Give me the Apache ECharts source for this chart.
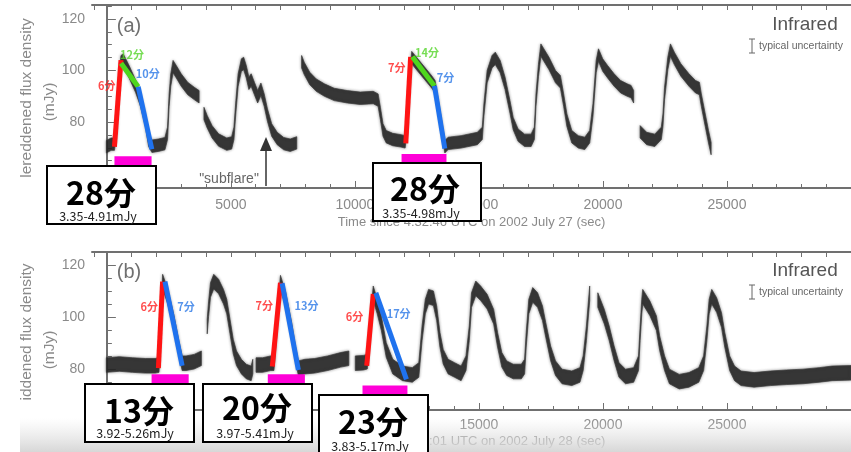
<!DOCTYPE html>
<html>
<head>
<meta charset="utf-8">
<script src="https://cdn.jsdelivr.net/npm/echarts@6/dist/echarts.min.js"></script>
<style>
html, body { margin: 0; padding: 0; background: #fff; }
#chart { width: 851px; height: 452px; }
</style>
</head>
<body>
<div id="chart"></div>
<script>
// Infrared light curve, 2002 July 27: [time (s), dereddened flux (mJy)]; null = gap in the data
const curveA = [
  [-20, 70.4], [170, 71.4], [305, 71.4], [400, 78.2], [476, 93.7], [568, 103.4], [660, 104.0], [896, 99.5],
  [1158, 93.9], [1355, 88.5], [1552, 80.7], [1684, 72.9], [1815, 70.6], [2077, 71.0], [2340, 71.6], [2445, 75.6],
  [2510, 88.5], [2576, 96.3], [2668, 101.5], [2799, 99.5], [2996, 96.3], [3258, 93.0], [3520, 91.1], [3717, 89.8],
  null,
  [3914, 83.3], [4045, 80.1], [4242, 76.2], [4505, 73.0], [4833, 71.4], [5030, 71.9], [5122, 75.6], [5200, 85.9],
  [5292, 96.3], [5423, 102.1], [5515, 102.7], [5620, 99.5], [5725, 95.0], [5817, 96.3], [5948, 93.0], [6079, 89.8],
  [6210, 92.7], [6342, 88.5], [6473, 82.7], [6644, 76.9], [6867, 73.6], [7130, 71.6], [7392, 71.0], [7654, 71.9],
  null,
  [7851, 103.4], [7956, 100.8], [8179, 96.9], [8442, 94.3], [8770, 92.4], [9164, 90.7], [9688, 89.8], [10213, 89.2],
  [10738, 89.5], [10935, 88.5], [11027, 83.3], [11132, 76.9], [11263, 74.3], [11526, 73.2], [11854, 72.7], [12024, 72.3],
  [12100, 78.0], [12200, 95.0], [12290, 105.0], [12500, 102.5], [12800, 99.0], [13100, 95.5], [13232, 93.7], [13400, 84.0],
  [13625, 70.4], [13757, 71.7], [14281, 72.3], [14937, 73.6], [15134, 75.6], [15200, 84.6], [15331, 97.6], [15528, 103.4],
  [15660, 104.7], [15856, 101.5], [16053, 95.0], [16250, 85.9], [16381, 79.4], [16578, 74.9], [16840, 72.9], [17103, 72.9],
  [17234, 75.6], [17300, 88.5], [17400, 100.0], [17497, 107.9], [17825, 102.7], [18087, 97.6], [18284, 95.6], [18415, 88.5],
  [18546, 80.7], [18743, 74.3], [19006, 72.3], [19268, 71.7], [19465, 74.3], [19596, 84.6], [19727, 101.5], [19819, 106.0],
  [19990, 102.1], [20187, 99.5], [20449, 96.3], [20712, 93.7], [20975, 92.4], [21132, 91.8], [21237, 89.8],
  null,
  [21499, 76.2], [21762, 73.6], [22090, 72.9], [22352, 75.6], [22418, 80.7], [22484, 91.1], [22615, 102.7], [22720, 107.9],
  [22877, 104.7], [23140, 100.2], [23468, 96.3], [23731, 93.7], [23888, 93.0], [23966, 88.5], [24124, 80.7], [24255, 74.3],
  [24360, 69.7]
];

// Infrared light curve, 2002 July 28
const curveB = [
  [-20, 81.5], [500, 81.9], [1030, 81.5], [1550, 81.2], [1946, 81.2], [2100, 81.5], [2180, 97.0], [2248, 113.6],
  [2450, 108.0], [2700, 98.0], [2900, 88.0], [3035, 82.2], [3192, 82.2], [3520, 82.8], [3809, 84.1],
  null,
  [4045, 96.3], [4100, 103.0], [4177, 110.4], [4308, 113.6], [4505, 111.7], [4702, 107.8], [4833, 104.0], [4964, 96.3],
  [5095, 88.6], [5226, 84.1], [5423, 80.9], [5620, 79.0], [5817, 78.3], [5883, 80.9],
  null,
  [6014, 81.5], [6276, 81.5], [6604, 82.2], [6735, 82.2], [6870, 98.0], [6998, 113.2], [7200, 107.0], [7450, 95.0],
  [7600, 86.0], [7720, 80.3], [7982, 80.9], [8376, 81.2], [8901, 82.2], [9426, 83.5], [9754, 84.1],
  null,
  [10016, 82.2], [10344, 82.4], [10500, 82.8], [10620, 96.0], [10738, 109.1], [10900, 104.0], [11066, 97.6], [11263, 87.3],
  [11526, 80.9], [11920, 78.3], [12313, 77.7], [12575, 79.6], [12707, 93.7], [12838, 104.0], [12969, 107.8], [13166, 107.2],
  [13297, 101.4], [13428, 91.2], [13560, 84.7], [13757, 80.9], [14019, 79.6], [14281, 78.3], [14478, 82.2], [14610, 93.7],
  [14701, 106.5], [14872, 111.0], [15069, 109.1], [15331, 105.9], [15594, 100.1], [15751, 91.2], [15922, 83.5], [16119, 80.3],
  [16381, 79.0], [16709, 79.0], [16840, 80.9], [16906, 91.2], [17011, 104.0], [17169, 108.5], [17365, 106.5], [17562, 101.4],
  [17694, 95.0], [17890, 86.0], [18087, 80.3], [18350, 77.1], [18744, 76.4], [19072, 77.7], [19202, 82.2], [19333, 93.7],
  [19465, 109.1],
  null,
  [19793, 106.5], [20055, 100.1], [20252, 93.7], [20449, 86.0], [20646, 79.6], [20909, 77.1], [21237, 77.7], [21433, 82.2],
  [21499, 93.7], [21565, 104.0], [21604, 107.8], [21893, 103.3], [22155, 97.6], [22286, 89.9], [22484, 82.2], [22680, 77.1],
  [23074, 75.1], [23468, 75.8], [23862, 77.7], [24058, 82.2], [24190, 93.7], [24282, 104.0], [24386, 107.8], [24583, 104.6],
  [24780, 98.8], [24911, 91.2], [25108, 82.2], [25305, 78.3], [25567, 76.4], [26092, 75.8], [26749, 76.4], [27405, 76.8],
  [28061, 77.1], [28717, 77.7], [29242, 78.3], [30000, 78.5]
];

// Rise / plateau / decay fits of the marked flares and the time span each one covers
const flaresA = [
  { rise: [[305, 70.4], [569, 104.0]], plateau: [[569, 102.8], [1262, 93.7]], decay: [[1262, 93.7], [1813, 69.4]], span: [305, 1802], spanLevel: 65.0 },
  { rise: [[12050, 71.7], [12246, 105.3]], plateau: [[12313, 105.3], [13207, 94.0]], decay: [[13207, 94.0], [13624, 69.7]], span: [11880, 13691], spanLevel: 65.8 }
];
const flaresB = [
  { rise: [[2077, 80.3], [2246, 113.6]], decay: [[2340, 113.6], [3034, 81.2]], span: [1802, 3298], spanLevel: 76.2 },
  { rise: [[6670, 80.9], [6998, 113.2]], decay: [[7065, 113.0], [7721, 79.6]], span: [6487, 7983], spanLevel: 76.2 },
  { rise: [[10476, 81.2], [10739, 108.8]], decay: [[10844, 109.3], [12077, 76.0]], span: [10306, 12117], spanLevel: 71.9 }
];

// Phase durations written beside the fits: [time, flux, text, phase]
const phaseLabelsA = [
  [-10, 93.9, '6分', 'rise'], [1014, 106.0, '12分', 'plateau'], [1644, 98.6, '10分', 'decay'],
  [11683, 100.9, '7分', 'rise'], [12904, 106.8, '14分', 'plateau'], [13652, 97.1, '7分', 'decay']
];
const phaseLabelsB = [
  [1711, 104.0, '6分', 'rise'], [3191, 104.0, '7分', 'decay'],
  [6341, 104.2, '7分', 'rise'], [8050, 104.3, '13分', 'decay'],
  [9979, 99.9, '6分', 'rise'], [11762, 101.2, '17分', 'decay']
];

// Summary boxes: total duration and flux range of each flare
const summaryA = [['28分', '3.35-4.91mJy'], ['28分', '3.35-4.98mJy']];
const summaryB = [['13分', '3.92-5.26mJy'], ['20分', '3.97-5.41mJy'], ['23分', '3.83-5.17mJy']];

// Axis ticks
const xMajorTicks = [0, 5000, 10000, 15000, 20000, 25000, 30000];
const xTickLabels = [0, 5000, 10000, 15000, 20000, 25000];
const xMinorTicks = [-500, 1000, 2000, 3000, 4000, 6000, 7000, 8000, 9000, 11000, 12000, 13000, 14000, 16000, 17000, 18000, 19000, 21000, 22000, 23000, 24000, 26000, 27000, 28000, 29000];
const yTickLabels = [80, 100, 120];
const yMinorTicks = [55, 60, 65, 70, 75, 85, 90, 95, 105, 110, 115, 125];

const PHASE_COLORS = { rise: '#ff1414', plateau: '#4fd61e', decay: '#1f72ee' };
const LABEL_COLORS = { rise: '#ff2020', plateau: '#55d42a', decay: '#2a78e6' };
const SPAN_COLOR = '#ff00d8';
const SCAN_GREY = '#8a8a8a';
const FRAME = '#707070';
const CJK = '"Noto Sans CJK JP", "Noto Sans", sans-serif';
const SANS = '"Liberation Sans", Arial, sans-serif';

const chart = echarts.init(document.getElementById('chart'));

function splitSegments(curve) {
  const segs = [];
  let cur = [];
  curve.forEach(p => {
    if (p === null) { if (cur.length) segs.push(cur); cur = []; }
    else cur.push(p);
  });
  if (cur.length) segs.push(cur);
  return segs;
}

// The scattered photometry is drawn as a dark band around the curve
function bandSeries(curve, xi, yi, halfWidth) {
  const segs = splitSegments(curve);
  return {
    type: 'custom', xAxisIndex: xi, yAxisIndex: yi, clip: true, z: 2,
    data: segs.map((s, i) => [s[0][0], s[0][1], i]),
    renderItem: (params, api) => {
      const seg = segs[params.dataIndex];
      const up = seg.map(p => api.coord([p[0], p[1] + halfWidth]));
      const lo = seg.map(p => api.coord([p[0], p[1] - halfWidth])).reverse();
      return {
        type: 'polygon',
        shape: { points: up.concat(lo) },
        style: { fill: 'rgba(40,40,40,0.88)', stroke: 'rgba(60,60,60,0.7)', lineWidth: 1, shadowBlur: 3, shadowColor: 'rgba(0,0,0,0.45)' }
      };
    }
  };
}

function fitSeries(flares, xi, yi) {
  const out = [];
  flares.forEach(f => {
    ['rise', 'plateau', 'decay'].forEach(ph => {
      if (!f[ph]) return;
      out.push({
        type: 'line', xAxisIndex: xi, yAxisIndex: yi, data: f[ph], symbol: 'none', z: 5,
        lineStyle: { color: PHASE_COLORS[ph], width: 5, cap: 'butt' }, silent: true, animation: false
      });
    });
    out.push({
      type: 'line', xAxisIndex: xi, yAxisIndex: yi, data: [[f.span[0], f.spanLevel], [f.span[1], f.spanLevel]],
      symbol: 'none', z: 5, lineStyle: { color: SPAN_COLOR, width: 9, cap: 'butt' }, silent: true, animation: false
    });
  });
  return out;
}

function labelSeries(labels, xi, yi) {
  return {
    type: 'scatter', xAxisIndex: xi, yAxisIndex: yi, symbolSize: 0, z: 6, animation: false,
    data: labels.map(l => ({
      value: [l[0], l[1]], name: l[2],
      label: { show: true, position: 'inside', formatter: '{b}', color: LABEL_COLORS[l[3]], fontSize: 11, fontWeight: 'bold', fontFamily: CJK }
    }))
  };
}

const plainNumber = v => String(v);

function xAxes(grid, name, nameGap, labelMargin) {
  const base = { type: 'value', gridIndex: grid, min: -600, max: 30000, splitLine: { show: false } };
  return [
    Object.assign({}, base, {
      position: 'bottom',
      axisLine: { lineStyle: { color: FRAME, width: 2 } },
      axisTick: { inside: true, length: 7, customValues: xMajorTicks, lineStyle: { color: FRAME } },
      axisLabel: { customValues: xTickLabels, formatter: plainNumber, color: SCAN_GREY, fontSize: 14, fontFamily: SANS, margin: labelMargin },
      name: name, nameLocation: 'middle', nameGap: nameGap,
      nameTextStyle: { color: SCAN_GREY, fontSize: 13, fontFamily: SANS }
    }),
    Object.assign({}, base, {
      position: 'bottom', axisLine: { show: false },
      axisTick: { inside: true, length: 4, customValues: xMinorTicks, lineStyle: { color: FRAME } },
      axisLabel: { show: false }
    }),
    Object.assign({}, base, {
      position: 'top',
      axisLine: { lineStyle: { color: FRAME, width: 2 } },
      axisTick: { inside: true, length: 5, customValues: xMajorTicks.concat(xMinorTicks), lineStyle: { color: FRAME } },
      axisLabel: { show: false }
    })
  ];
}

function yAxes(grid, min, max) {
  const base = { type: 'value', gridIndex: grid, min: min, max: max, splitLine: { show: false }, position: 'left' };
  return [
    Object.assign({}, base, {
      axisLine: { lineStyle: { color: FRAME, width: 2 } },
      axisTick: { inside: true, length: 9, customValues: yTickLabels, lineStyle: { color: FRAME } },
      axisLabel: { customValues: yTickLabels, formatter: plainNumber, color: SCAN_GREY, fontSize: 14, fontFamily: SANS, margin: 7 }
    }),
    Object.assign({}, base, {
      axisLine: { show: false },
      axisTick: { inside: true, length: 5, customValues: yMinorTicks, lineStyle: { color: FRAME } },
      axisLabel: { show: false }
    })
  ];
}

const TOP_Z = 200;

function summaryBox(x, y, w, h, big, small, bigY, smallY, bigX, smallX) {
  return [
    { type: 'rect', z: TOP_Z, shape: { x: x, y: y, width: w, height: h }, style: { fill: '#fff', stroke: '#000', lineWidth: 2 } },
    { type: 'text', z: TOP_Z + 1, x: bigX, y: bigY, style: { text: big, font: 'bold 32px ' + CJK, fill: '#000', align: 'center', verticalAlign: 'middle' } },
    { type: 'text', z: TOP_Z + 1, x: smallX, y: smallY, style: { text: small, font: '12.5px ' + CJK, fill: '#222', align: 'center', verticalAlign: 'middle' } }
  ];
}

function panelText(top, tag, nameCenterY, unitCenterY, axisName) {
  return [
    { type: 'text', x: 129, y: top + 21, z: 50, style: { text: tag, font: '20px ' + SANS, fill: '#707070', align: 'center', verticalAlign: 'middle' } },
    { type: 'text', x: 805, y: top + 20, z: 50, style: { text: 'Infrared', font: '19px ' + SANS, fill: '#555', align: 'center', verticalAlign: 'middle' } },
    { type: 'line', z: 50, shape: { x1: 752, y1: top + 34, x2: 752, y2: top + 48 }, style: { stroke: '#666', lineWidth: 1 } },
    { type: 'line', z: 50, shape: { x1: 749, y1: top + 34, x2: 755, y2: top + 34 }, style: { stroke: '#666', lineWidth: 1 } },
    { type: 'line', z: 50, shape: { x1: 749, y1: top + 48, x2: 755, y2: top + 48 }, style: { stroke: '#666', lineWidth: 1 } },
    { type: 'text', x: 759, y: top + 41, z: 50, style: { text: 'typical uncertainty', font: '10.5px ' + SANS, fill: '#666', align: 'left', verticalAlign: 'middle' } },
    { type: 'text', x: 27, y: nameCenterY, rotation: Math.PI / 2, z: 50, style: { text: axisName, font: '15.5px ' + SANS, fill: SCAN_GREY, align: 'center', verticalAlign: 'middle' } },
    { type: 'text', x: 50, y: unitCenterY, rotation: Math.PI / 2, z: 50, style: { text: '(mJy)', font: '15.5px ' + SANS, fill: SCAN_GREY, align: 'center', verticalAlign: 'middle' } }
  ];
}

const option = {
  animation: false,
  backgroundColor: '#fff',
  grid: [
    { left: 92, top: 5, width: 777, height: 183 },
    { left: 92, top: 252, width: 777, height: 158 }
  ],
  xAxis: [].concat(
    xAxes(0, 'Time since 4:32:46 UTC on 2002 July 27 (sec)', 28, 10),
    xAxes(1, 'Time since 4:54:01 UTC on 2002 July 28 (sec)', 25, 8)
  ),
  yAxis: [].concat(yAxes(0, 54.4, 125.4), yAxes(1, 64.2, 125)),
  series: [].concat(
    [bandSeries(curveA, 0, 0, 2.4), bandSeries(curveB, 3, 2, 2.8)],
    fitSeries(flaresA, 0, 0),
    fitSeries(flaresB, 3, 2),
    [labelSeries(phaseLabelsA, 0, 0), labelSeries(phaseLabelsB, 3, 2)]
  ),
  graphic: [].concat(
    panelText(5, '(a)', 98, 102, 'lereddened flux density'),
    panelText(251, '(b)', 332, 350, 'iddened flux density'),
    [
      { type: 'text', x: 229, y: 179, z: 50, style: { text: '"subflare"', font: '14px ' + SANS, fill: '#666', align: 'center', verticalAlign: 'middle' } },
      { type: 'line', z: 50, shape: { x1: 266, y1: 186, x2: 266, y2: 148 }, style: { stroke: '#333', lineWidth: 1.5 } },
      { type: 'polygon', z: 50, shape: { points: [[266, 137], [260, 151], [272, 151]] }, style: { fill: '#333' } },
      // soft shading along the bottom edge
      { type: 'rect', z: 150, shape: { x: 20, y: 418, width: 831, height: 34 },
        style: { fill: new echarts.graphic.LinearGradient(0, 0, 0, 1, [{ offset: 0, color: 'rgba(225,225,225,0)' }, { offset: 1, color: 'rgba(215,215,215,1)' }]) } }
    ],
    summaryBox(47, 166, 109, 58, summaryA[0][0], summaryA[0][1], 193, 216, 101, 98),
    summaryBox(373, 163, 108, 58, summaryA[1][0], summaryA[1][1], 189, 213, 425, 421),
    summaryBox(85, 384, 109, 58, summaryB[0][0], summaryB[0][1], 411, 433, 139, 135),
    summaryBox(203, 384, 109, 58, summaryB[1][0], summaryB[1][1], 408, 433, 257, 255),
    summaryBox(319, 395, 109, 70, summaryB[2][0], summaryB[2][1], 422, 446, 373, 370)
  )
};

chart.setOption(option);
</script>
</body>
</html>
